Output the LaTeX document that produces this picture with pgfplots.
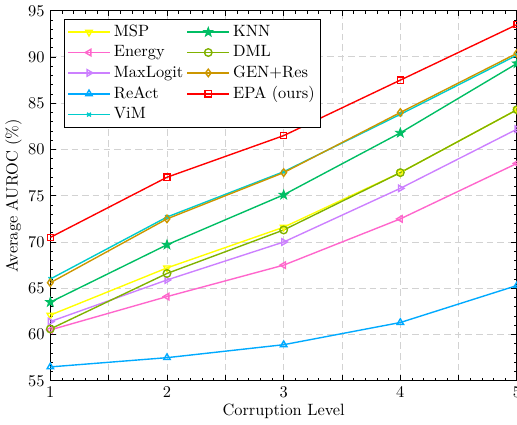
\documentclass[border=0pt]{standalone}
\usepackage{pgfplots}
\pgfplotsset{compat=1.18}

\definecolor{cMSP}{RGB}{255,255,0}
\definecolor{cEnergy}{RGB}{255,102,204}
\definecolor{cMaxLogit}{RGB}{204,128,255}
\definecolor{cReAct}{RGB}{0,170,255}
\definecolor{cViM}{RGB}{0,204,204}
\definecolor{cKNN}{RGB}{0,190,100}
\definecolor{cDML}{RGB}{128,178,0}
\definecolor{cGEN}{RGB}{204,150,0}
\definecolor{cEPA}{RGB}{255,0,0}

% filled five-pointed star for KNN
\pgfdeclareplotmark{pentaKNN}{%
  \pgfsetfillcolor{cKNN}%
  \pgfpathmoveto{\pgfqpointpolar{90}{\pgfplotmarksize}}%
  \pgfpathlineto{\pgfqpointpolar{126}{0.4\pgfplotmarksize}}%
  \pgfpathlineto{\pgfqpointpolar{162}{\pgfplotmarksize}}%
  \pgfpathlineto{\pgfqpointpolar{198}{0.4\pgfplotmarksize}}%
  \pgfpathlineto{\pgfqpointpolar{234}{\pgfplotmarksize}}%
  \pgfpathlineto{\pgfqpointpolar{270}{0.4\pgfplotmarksize}}%
  \pgfpathlineto{\pgfqpointpolar{306}{\pgfplotmarksize}}%
  \pgfpathlineto{\pgfqpointpolar{342}{0.4\pgfplotmarksize}}%
  \pgfpathlineto{\pgfqpointpolar{18}{\pgfplotmarksize}}%
  \pgfpathlineto{\pgfqpointpolar{54}{0.4\pgfplotmarksize}}%
  \pgfpathclose
  \pgfusepathqfillstroke}

\begin{document}
\begin{tikzpicture}[trim axis right]
\begin{axis}[
    scale only axis,
    width=285pt, height=226pt,
    xmin=1, xmax=5,
    ymin=55, ymax=95,
    xtick={1,1.5,...,5},
    xticklabels={1,,2,,3,,4,,5},
    ytick={55,60,...,95},
    minor x tick num=4,
    minor y tick num=4,
    tick align=inside,
    major tick length=3.5pt,
    minor tick length=1.8pt,
    grid=major,
    major grid style={gray!35, dash pattern=on 4pt off 2.5pt, line width=0.6pt},
    axis line style={line width=0.7pt},
    tick style={black, line width=0.5pt},
    xlabel={Corruption Level},
    ylabel={Average AUROC (\%)},
    xlabel style={yshift=3pt},
    ylabel style={yshift=-3pt},
    every axis plot/.append style={line width=0.85pt, mark size=2.3pt},
    legend style={at={(0.03,0.978)}, anchor=north west, draw=black, line width=0.7pt,
                  font=\normalsize, inner sep=1.5pt},
    legend cell align=left,
    transpose legend,
    legend columns=5,
    legend image code/.code={\draw[mark repeat=2, mark phase=2] plot coordinates {(0cm,0cm)(0.45cm,0cm)(0.9cm,0cm)};},
]
\addplot[cMSP, mark=triangle, mark options={solid, fill=none, rotate=180}] coordinates {(1,62.1)(2,67.2)(3,71.6)(4,77.5)(5,84.3)};
\addlegendentry{MSP}
\addplot[cEnergy, mark=triangle, mark options={solid, fill=none, rotate=90}] coordinates {(1,60.5)(2,64.1)(3,67.5)(4,72.5)(5,78.5)};
\addlegendentry{Energy}
\addplot[cMaxLogit, mark=triangle, mark options={solid, fill=none, rotate=-90}] coordinates {(1,61.4)(2,65.9)(3,70.0)(4,75.8)(5,82.2)};
\addlegendentry{MaxLogit}
\addplot[cReAct, mark=triangle, mark options={solid, fill=none}] coordinates {(1,56.5)(2,57.5)(3,58.9)(4,61.3)(5,65.3)};
\addlegendentry{ReAct}
\addplot[cViM, mark=x, mark size=1.6pt, mark options={solid}] coordinates {(1,66.0)(2,72.7)(3,77.6)(4,83.8)(5,90.2)};
\addlegendentry{ViM}
\addplot[cKNN, mark=pentaKNN, mark size=3pt, mark options={solid, line width=0.5pt}] coordinates {(1,63.5)(2,69.7)(3,75.1)(4,81.8)(5,89.3)};
\addlegendentry{KNN}
\addplot[cDML, mark=o, mark options={solid, fill=none}] coordinates {(1,60.6)(2,66.6)(3,71.3)(4,77.5)(5,84.3)};
\addlegendentry{DML}
\addplot[cGEN, mark=diamond, mark options={solid, fill=none}] coordinates {(1,65.6)(2,72.5)(3,77.5)(4,84.0)(5,90.4)};
\addlegendentry{GEN+Res}
\addplot[cEPA, mark=square, mark size=1.9pt, mark options={solid, fill=none}] coordinates {(1,70.5)(2,77.0)(3,81.5)(4,87.5)(5,93.5)};
\addlegendentry{EPA (ours)}
\end{axis}
\end{tikzpicture}
\end{document}
